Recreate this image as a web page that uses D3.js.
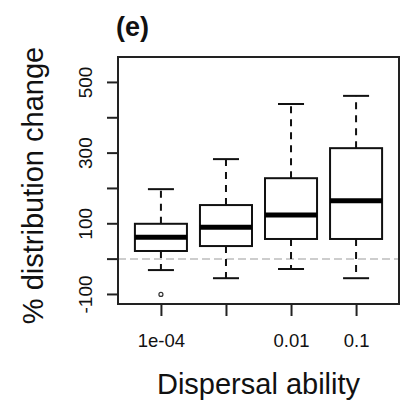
<!DOCTYPE html>
<html><head><meta charset="utf-8">
<script src="https://cdn.jsdelivr.net/npm/d3@7"></script>
<style>body{margin:0;background:#fff}svg{display:block}</style>
</head><body>
<svg id="c" width="409" height="403"></svg>
<script>
const categories = ["1e-04", "0.001", "0.01", "0.1"];
const tickLabels = ["1e-04", "", "0.01", "0.1"];
const lowerWhisker = [-31, -54, -28, -54];
const q1 = [23, 37, 57, 57];
const median = [62, 90, 125, 165];
const q3 = [100, 153, 229, 314];
const upperWhisker = [198, 283, 439, 462];
const outliers = [[0, -100]];
const yTicks = [-100, 0, 100, 200, 300, 400, 500];
const yTickLabels = [-100, 100, 300, 500];

const svg = d3.select("#c");
const L = 118, R = 399, T = 57, B = 304;
const x = d3.scaleLinear().domain([0.34, 4.66]).range([L, R]);
const y = d3.scaleLinear().domain([-127, 572]).range([B, T]);
const font = "Liberation Sans, Arial, sans-serif";
const boxW = x(1.4) - x(1);
const capW = boxW / 2;

svg.append("line").attr("x1", L).attr("x2", R).attr("y1", y(0)).attr("y2", y(0))
  .attr("stroke", "#bdbdbd").attr("stroke-width", 1.5).attr("stroke-dasharray", "8,4");

const g = svg.append("g");
categories.forEach((c, i) => {
  const cx = x(i + 1);
  [[q3[i], upperWhisker[i]], [q1[i], lowerWhisker[i]]].forEach(([a, b]) => {
    g.append("line").attr("x1", cx).attr("x2", cx).attr("y1", y(a)).attr("y2", y(b))
      .attr("stroke", "#111").attr("stroke-width", 2).attr("stroke-dasharray", "7,6");
    g.append("line").attr("x1", cx - capW).attr("x2", cx + capW).attr("y1", y(b)).attr("y2", y(b))
      .attr("stroke", "#111").attr("stroke-width", 2);
  });
  g.append("rect").attr("x", cx - boxW).attr("width", 2 * boxW)
    .attr("y", y(q3[i])).attr("height", y(q1[i]) - y(q3[i]))
    .attr("fill", "#fff").attr("stroke", "#111").attr("stroke-width", 2);
  g.append("line").attr("x1", cx - boxW).attr("x2", cx + boxW).attr("y1", y(median[i])).attr("y2", y(median[i]))
    .attr("stroke", "#000").attr("stroke-width", 5);
});
outliers.forEach(([i, v]) => {
  g.append("circle").attr("cx", x(i + 1)).attr("cy", y(v)).attr("r", 2)
    .attr("fill", "none").attr("stroke", "#333").attr("stroke-width", 1.2);
});

svg.append("rect").attr("x", L).attr("y", T).attr("width", R - L).attr("height", B - T)
  .attr("fill", "none").attr("stroke", "#222").attr("stroke-width", 2);

const yAxis = d3.axisLeft(y).tickValues(yTicks).tickSize(11).tickFormat(d => yTickLabels.includes(d) ? d : "");
const ya = svg.append("g").attr("transform", `translate(${L},0)`).call(yAxis);
ya.select(".domain").remove();
ya.selectAll(".tick").attr("transform", "translate(0,0)");
ya.selectAll(".tick line").attr("stroke", "#222").attr("stroke-width", 2)
  .each(function(d) { d3.select(this).attr("y1", y(d)).attr("y2", y(d)); });
ya.selectAll(".tick text").attr("x", 0).attr("y", 0).attr("dy", 0).attr("text-anchor", "middle")
  .attr("transform", d => `translate(${92 - L},${y(d)}) rotate(-90)`)
  .style("font-family", font).style("font-size", "19px").attr("fill", "#111");

const xAxis = d3.axisBottom(x).tickValues([1, 2, 3, 4]).tickSize(12).tickFormat((d, i) => tickLabels[i]);
const xa = svg.append("g").attr("transform", `translate(0,${B})`).call(xAxis);
xa.select(".domain").remove();
xa.selectAll(".tick line").attr("stroke", "#222").attr("stroke-width", 2);
xa.selectAll(".tick text").attr("y", 43).attr("dy", 0)
  .style("font-family", font).style("font-size", "18.5px").attr("fill", "#111");

svg.append("text").attr("x", (L + R) / 2).attr("y", 394).attr("text-anchor", "middle")
  .style("font-family", font).style("font-size", "29px").attr("fill", "#111").text("Dispersal ability");
svg.append("text").attr("transform", `translate(43,${(T + B) / 2 + 5}) rotate(-90)`).attr("text-anchor", "middle")
  .style("font-family", font).style("font-size", "29px").attr("fill", "#111").text("% distribution change");
svg.append("text").attr("x", 116).attr("y", 36)
  .style("font-family", font).style("font-size", "27px").style("font-weight", "bold").attr("fill", "#111").text("(e)");
</script>
</body></html>
